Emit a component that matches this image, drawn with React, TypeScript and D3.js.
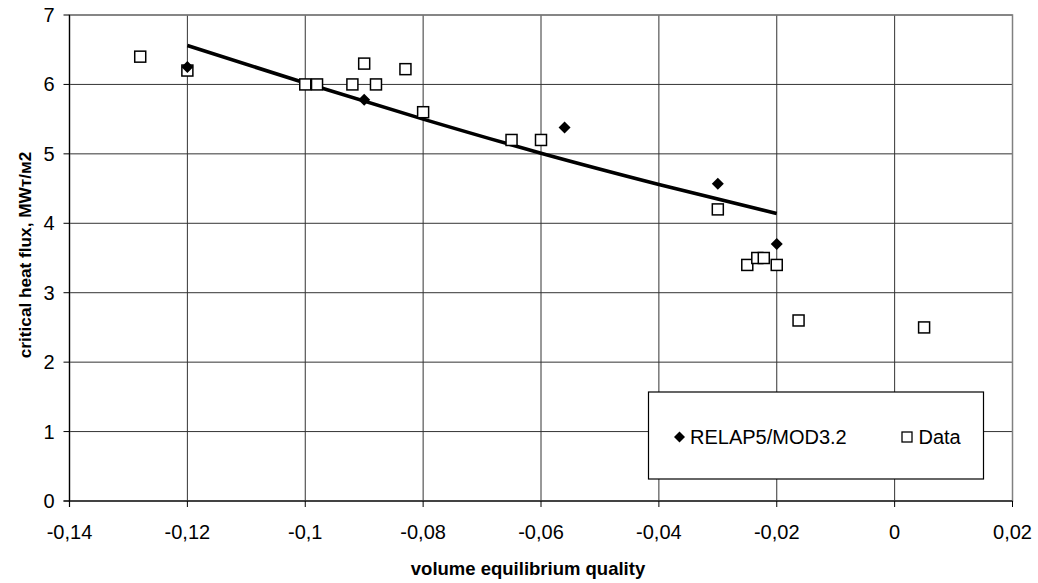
import * as d3 from "d3";
import React from "react";

// values
const relapX = [-0.12, -0.09, -0.056, -0.03, -0.02];
const relapY = [6.25, 5.78, 5.38, 4.57, 3.7];

const dataX = [-0.128, -0.12, -0.1, -0.098, -0.092, -0.09, -0.088, -0.083, -0.08, -0.065, -0.06, -0.03, -0.025, -0.0233, -0.0222, -0.02, -0.0163, 0.005];
const dataY = [6.4, 6.2, 6.0, 6.0, 6.0, 6.3, 6.0, 6.22, 5.6, 5.2, 5.2, 4.2, 3.4, 3.5, 3.5, 3.4, 2.6, 2.5];

const trendX = [-0.12, -0.1, -0.08, -0.06, -0.04, -0.02];
const trendY = [6.56, 6.02, 5.5, 5.01, 4.56, 4.14];

const xTicks = [-0.14, -0.12, -0.1, -0.08, -0.06, -0.04, -0.02, 0, 0.02];
const yTicks = [0, 1, 2, 3, 4, 5, 6, 7];

const W = 1038;
const H = 583;
const left = 69.5;
const right = 1012.5;
const top = 15;
const bottom = 501;

// Excel style: hyphen minus, decimal comma
const fmtX = (v: number) => {
  if (Math.abs(v) < 1e-9) return "0";
  return String(+v.toFixed(2)).replace(".", ",");
};

const App = () => {
  const x = d3.scaleLinear().domain([-0.14, 0.02]).range([left, right]);
  const y = d3.scaleLinear().domain([0, 7]).range([bottom, top]);

  const trend = d3
    .line<number>()
    .x((_, i) => x(trendX[i]))
    .y((d) => y(d))
    .curve(d3.curveMonotoneX)(trendY);

  const font = "Arial, 'Liberation Sans', sans-serif";
  const sq = 11;
  const diamond = (cx: number, cy: number, r: number) =>
    `M${cx},${cy - r}L${cx + r},${cy}L${cx},${cy + r}L${cx - r},${cy}Z`;

  return (
    <svg
      width={W}
      height={H}
      style={{ position: "absolute", left: 0, top: 0, background: "#fff" }}
      fontFamily={font}
    >
      <rect x={0} y={0} width={W} height={H} fill="#fff" />

      {/* grid */}
      {yTicks.map((t) => (
        <line key={"gy" + t} x1={left} x2={right} y1={y(t)} y2={y(t)} stroke="#333" strokeWidth={1} />
      ))}
      {xTicks.map((t) => (
        <line key={"gx" + t} x1={x(t)} x2={x(t)} y1={top} y2={bottom} stroke="#333" strokeWidth={1} />
      ))}
      <rect x={left} y={top} width={right - left} height={bottom - top} fill="none" stroke="#808080" strokeWidth={1.5} />

      {/* axes */}
      <line x1={left} x2={left} y1={top} y2={bottom + 6} stroke="#000" strokeWidth={1.2} />
      <line x1={left - 6} x2={right} y1={bottom} y2={bottom} stroke="#000" strokeWidth={1.2} />
      {xTicks.map((t) => (
        <g key={"xt" + t}>
          <line x1={x(t)} x2={x(t)} y1={bottom} y2={bottom + 6} stroke="#000" />
          <text x={x(t)} y={bottom + 38} textAnchor="middle" fontSize={20}>
            {fmtX(t)}
          </text>
        </g>
      ))}
      {yTicks.map((t) => (
        <g key={"yt" + t}>
          <line x1={left - 6} x2={left} y1={y(t)} y2={y(t)} stroke="#000" />
          <text x={left - 15} y={y(t) + 7} textAnchor="end" fontSize={20}>
            {t}
          </text>
        </g>
      ))}

      {/* trend line */}
      <path d={trend ?? ""} fill="none" stroke="#000" strokeWidth={3.6} />

      {/* Data squares */}
      {dataX.map((v, i) => (
        <rect
          key={"d" + i}
          x={x(v) - sq / 2}
          y={y(dataY[i]) - sq / 2}
          width={sq}
          height={sq}
          fill="#fff"
          stroke="#000"
          strokeWidth={1.5}
        />
      ))}

      {/* RELAP5 diamonds */}
      {relapX.map((v, i) => (
        <path key={"r" + i} d={diamond(x(v), y(relapY[i]), 6)} fill="#000" />
      ))}

      {/* legend */}
      <rect x={648.5} y={392} width={335} height={87} fill="#fff" stroke="#000" strokeWidth={1.2} />
      <path d={diamond(679.5, 437, 5.5)} fill="#000" />
      <text x={690} y={444} fontSize={20}>RELAP5/MOD3.2</text>
      <rect x={902} y={432} width={10} height={10} fill="#fff" stroke="#000" strokeWidth={1.3} />
      <text x={918.5} y={444} fontSize={20}>Data</text>

      {/* axis titles */}
      <text x={(left + right) / 2 - 13} y={575} textAnchor="middle" fontSize={18.5} fontWeight="bold">
        volume equilibrium quality
      </text>
      <text
        transform={`translate(31,255) rotate(-90)`}
        textAnchor="middle"
        fontSize={17.2}
        fontWeight="bold"
      >
        critical heat flux, MWт/м2
      </text>
    </svg>
  );
};

export default App;
